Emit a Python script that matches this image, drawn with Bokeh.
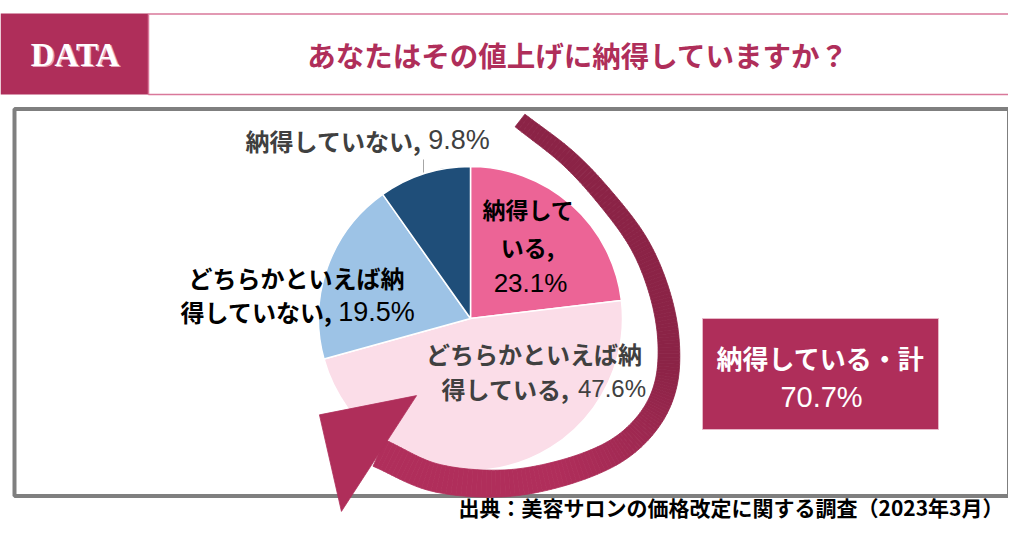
import numpy as np
from bokeh.plotting import figure
from bokeh.models import Range1d
from bokeh.core.properties import value
from bokeh.embed import file_html
from bokeh.resources import INLINE

# ---------------- data ----------------
title = "あなたはその値上げに納得していますか？"
header_tag = "DATA"
categories = ["納得している", "どちらかといえば納得している",
              "どちらかといえば納得していない", "納得していない"]
shares = [23.1, 47.6, 19.5, 9.8]
total_label = "納得している・計"
total_value = round(shares[0] + shares[1], 1)
source_text = "出典：美容サロンの価格改定に関する調査（2023年3月）"

# ---------------- style ----------------
slice_colors = ["#EC6496", "#FBDDE8", "#9DC3E6", "#1F4E79"]
MAGENTA = "#AF2E5A"
JP = value("Noto Sans CJK JP")
NUM = value("Liberation Sans")

W, H = 1008, 522


def Y(y):
    # layout row (pixels from the top) -> data y (y up)
    return H - y


p = figure(width=W, height=H, output_backend="svg", toolbar_location=None,
           x_range=Range1d(0, W), y_range=Range1d(0, H),
           min_border=0, x_axis_location=None, y_axis_location=None)
p.grid.visible = False
p.outline_line_color = None
p.background_fill_color = "white"
p.border_fill_color = "white"


def txt(x, y, s, size, color, align="center", font=JP, style="bold"):
    p.text(x=[x], y=[Y(y)], text=[s], text_font=font, text_font_style=style,
           text_font_size=size, text_color=color, text_align=align,
           text_baseline="middle")


# ---------------- header ----------------
p.quad(left=[0], right=[148], top=[Y(13)], bottom=[Y(94)],
       fill_color=MAGENTA, line_color=None)
p.quad(left=[148], right=[1009], top=[Y(13.5)], bottom=[Y(94)],
       fill_color="white", line_color="#D9789A", line_width=1.5)
txt(76, 55.5, header_tag, "33px", "#E7A3BA", font=value("Liberation Serif"))
txt(74.5, 54, header_tag, "33px", "white", font=value("Liberation Serif"))
txt(577.5, 54, title, "28.5px", MAGENTA)

# ---------------- gray frame ----------------
p.quad(left=[14], right=[1008.5], top=[Y(108.5)], bottom=[Y(495.5)],
       fill_color="white", line_color="#7F7F7F", line_width=4)

# ---------------- pie ----------------
fr = np.array(shares) / sum(shares)
cum = np.concatenate([[0], np.cumsum(fr)])
start = np.pi / 2 - 2 * np.pi * cum[:-1]
end = np.pi / 2 - 2 * np.pi * cum[1:]
cx, cy, r = 470, 318, 152
p.wedge(x=[cx] * 4, y=[Y(cy)] * 4, radius=r, start_angle=list(start),
        end_angle=list(end), direction="clock", fill_color=slice_colors,
        line_color="white", line_width=1.5)

# leader line for the small slice
p.line(x=[423, 423], y=[Y(159), Y(172)], line_color="#A6A6A6", line_width=1)

# ---------------- labels ----------------
pct = [f"{v:.1f}%" for v in shares]

c0 = categories[0]
txt(528, 208, c0[:4], "23px", "black")
txt(527, 246, c0[4:] + ",", "23px", "black")
txt(530, 282, pct[0], "26px", "black", font=NUM, style="normal")

c1 = categories[1]
txt(533.5, 353, c1[:9], "24px", "#404040")
txt(505, 388, c1[9:] + ",", "24px", "#404040")
txt(611.5, 388, pct[1], "24px", "#404040", font=NUM, style="normal")

c2 = categories[2]
txt(296, 277, c2[:9], "24px", "black")
txt(256, 311, c2[9:] + ",", "24px", "black")
txt(376, 311, pct[2], "27px", "black", font=NUM, style="normal")

c3 = categories[3]
txt(333, 139.5, c3 + ",", "24px", "#404040")
txt(458.5, 139.5, pct[3], "27px", "#404040", font=NUM, style="normal")

# ---------------- curved arrow (decoration) ----------------
guide = np.array([(519.5, 120), (568, 158), (607, 200), (639, 244),
                  (659, 292), (668, 340), (665, 385), (647, 422),
                  (613, 452), (560, 473), (500, 483), (434, 477),
                  (378.5, 452.5)], dtype=float)


def catmull(pts, n=14):
    ext = np.vstack([2 * pts[0] - pts[1], pts, 2 * pts[-1] - pts[-2]])
    out = []
    for i in range(1, len(ext) - 2):
        p0, p1, p2, p3 = ext[i - 1], ext[i], ext[i + 1], ext[i + 2]
        for t in np.linspace(0, 1, n, endpoint=False):
            t2, t3 = t * t, t * t * t
            out.append(0.5 * ((2 * p1) + (-p0 + p2) * t +
                              (2 * p0 - 5 * p1 + 4 * p2 - p3) * t2 +
                              (-p0 + 3 * p1 - 3 * p2 + p3) * t3))
    out.append(pts[-1])
    return np.array(out)


curve = catmull(guide)
d = np.gradient(curve, axis=0)
d /= np.linalg.norm(d, axis=1)[:, None]
nrm = np.column_stack([-d[:, 1], d[:, 0]])
M = len(curve)
wid = np.linspace(16, 29, M)
inner = curve - nrm * wid[:, None] / 2
outer = curve + nrm * wid[:, None] / 2
c_dark = np.array([0x8B, 0x23, 0x46])
c_light = np.array([0xB0, 0x2E, 0x5B])
xs, ys, cols = [], [], []
for i in range(M - 1):
    quad_pts = [inner[i], outer[i], outer[i + 1], inner[i + 1]]
    xs.append([q[0] for q in quad_pts])
    ys.append([Y(q[1]) for q in quad_pts])
    t = np.clip((i / (M - 1) - 0.45) / 0.3, 0, 1)
    c = (c_dark * (1 - t) + c_light * t).astype(int)
    cols.append("#%02x%02x%02x" % tuple(c))
p.patches(xs=xs, ys=ys, fill_color=cols, line_color=cols, line_width=0.8)

# arrow head (pointing up-left)
b = curve[-1] + np.array([0.0, 0.5])
tdir = np.array([-0.84, -0.545])
tdir /= np.linalg.norm(tdir)
ndir = np.array([-tdir[1], tdir[0]])
hw, hl = 69, 71
head = [b + hw * ndir, b - hw * ndir, b + hl * tdir]
p.patch(x=[q[0] for q in head], y=[Y(q[1]) for q in head],
        fill_color=MAGENTA, line_color=MAGENTA, line_width=0.8)

# ---------------- total box ----------------
p.quad(left=[702], right=[938], top=[Y(318)], bottom=[Y(429)],
       fill_color=MAGENTA, line_color="#E7B7C8", line_width=1)
txt(820, 357, total_label, "26px", "white")
txt(821, 396, f"{total_value:.1f}%", "29px", "white", font=NUM, style="normal")

# ---------------- source ----------------
txt(1003, 506, source_text, "21px", "black", align="right")

open("out.html", "w").write(file_html(p, INLINE))
